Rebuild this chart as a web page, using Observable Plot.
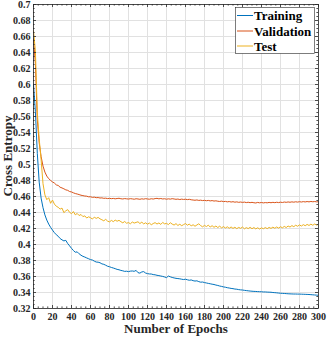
<!DOCTYPE html>
<html>
<head>
<meta charset="utf-8">
<script src="https://cdn.jsdelivr.net/npm/d3@7"></script>
<script src="https://cdn.jsdelivr.net/npm/@observablehq/plot@0.6"></script>
<style>
  html, body { margin: 0; padding: 0; background: #fff; }
</style>
</head>
<body>
<div id="chart"></div>
<script>
// ---- data (one value every 2 epochs) ----
const epochs = d3.range(0, 301, 2);
const training = [
  0.600,0.566,0.514,0.478,0.458,0.446,0.437,0.4305,0.4255,0.4215,
  0.418,0.4148,0.4122,0.4103,0.4075,0.4058,0.4045,0.4052,0.4012,0.3983,
  0.3952,0.3925,0.3903,0.3908,0.3884,0.3866,0.3852,0.3843,0.3832,0.3822,
  0.3811,0.3806,0.3792,0.3781,0.3779,0.3772,0.3758,0.3752,0.3741,0.3728,
  0.3722,0.3713,0.3706,0.3698,0.3689,0.3684,0.3676,0.3671,0.3664,0.3666,
  0.3661,0.3667,0.3669,0.3665,0.3676,0.3648,0.3642,0.3657,0.3661,0.3643,
  0.3636,0.3632,0.3631,0.3624,0.3621,0.3615,0.3611,0.3606,0.3601,0.3594,
  0.3586,0.3606,0.3596,0.3588,0.3582,0.3577,0.3574,0.3571,0.3566,0.3562,
  0.3566,0.3559,0.3553,0.3557,0.3548,0.3543,0.3546,0.3536,0.3529,0.3531,
  0.3524,0.3519,0.3514,0.3509,0.3504,0.3500,0.3493,0.3488,0.3481,0.3476,
  0.3470,0.3466,0.3460,0.3456,0.3451,0.3448,0.3443,0.3441,0.3436,0.3433,
  0.3431,0.3427,0.3424,0.3421,0.3418,0.3416,0.3414,0.3413,0.3411,0.3410,
  0.3409,0.3407,0.3407,0.3405,0.3404,0.3403,0.3400,0.3398,0.3396,0.3393,
  0.3391,0.3389,0.3388,0.3386,0.3384,0.3383,0.3382,0.3381,0.3381,0.3380,
  0.3380,0.3379,0.3378,0.3377,0.3376,0.3375,0.3373,0.3371,0.3369,0.3367,
  0.3365
];
const validation = [
  0.657,0.626,0.556,0.527,0.510,0.498,0.4905,0.4855,0.4823,0.4801,
  0.4782,0.4768,0.4745,0.4738,0.4716,0.4707,0.4696,0.4683,0.4677,0.4662,
  0.4657,0.4646,0.4637,0.4631,0.4624,0.4616,0.4611,0.4606,0.4604,0.4596,
  0.4597,0.4589,0.4592,0.4585,0.4587,0.4581,0.4583,0.4577,0.4579,0.4574,
  0.4577,0.4573,0.4576,0.4571,0.4575,0.4578,0.4572,0.4569,0.4574,0.4571,
  0.4568,0.4573,0.4570,0.4566,0.4572,0.4569,0.4565,0.4571,0.4567,0.4573,
  0.4569,0.4566,0.4572,0.4568,0.4574,0.4577,0.4571,0.4575,0.4569,0.4572,
  0.4566,0.4571,0.4567,0.4573,0.4569,0.4565,0.4568,0.4562,0.4567,0.4563,
  0.4566,0.4561,0.4565,0.4559,0.4556,0.4553,0.4557,0.4551,0.4554,0.4549,
  0.4552,0.4547,0.4551,0.4545,0.4549,0.4543,0.4546,0.4541,0.4538,0.4542,
  0.4536,0.4539,0.4533,0.4537,0.4531,0.4535,0.4529,0.4533,0.4527,0.4531,
  0.4526,0.4530,0.4524,0.4528,0.4523,0.4527,0.4522,0.4519,0.4526,0.4521,
  0.4525,0.4520,0.4524,0.4521,0.4526,0.4522,0.4527,0.4523,0.4528,0.4524,
  0.4529,0.4525,0.4531,0.4527,0.4532,0.4528,0.4533,0.4529,0.4534,0.4530,
  0.4535,0.4531,0.4536,0.4532,0.4537,0.4533,0.4538,0.4534,0.4537,0.4533,
  0.4534
];
const test = [
  0.667,0.642,0.565,0.532,0.506,0.476,0.462,0.456,0.4585,0.4515,
  0.4555,0.4505,0.4478,0.4465,0.4442,0.4455,0.4398,0.4421,0.4436,0.4402,
  0.4385,0.4412,0.4371,0.4388,0.4362,0.4375,0.4349,0.4358,0.4331,0.4346,
  0.4335,0.4318,0.4342,0.4326,0.4339,0.4321,0.4309,0.4296,0.4315,0.4292,
  0.4283,0.4301,0.4286,0.4305,0.4291,0.4302,0.4285,0.4271,0.4288,0.4266,
  0.4274,0.4259,0.4281,0.4268,0.4276,0.4284,0.4262,0.4279,0.4258,0.4271,
  0.4254,0.4268,0.4247,0.4262,0.4273,0.4256,0.4269,0.4251,0.4276,0.4258,
  0.4264,0.4249,0.4272,0.4255,0.4243,0.4261,0.4238,0.4253,0.4235,0.4249,
  0.4262,0.4241,0.4256,0.4232,0.4247,0.4228,0.4244,0.4259,0.4236,0.4221,
  0.4239,0.4224,0.4242,0.4218,0.4235,0.4215,0.4231,0.4212,0.4229,0.4208,
  0.4224,0.4206,0.4221,0.4203,0.4219,0.4201,0.4216,0.4198,0.4214,0.4202,
  0.4218,0.4196,0.4211,0.4199,0.4215,0.4197,0.4212,0.4195,0.4209,0.4193,
  0.4208,0.4197,0.4212,0.4198,0.4214,0.4201,0.4217,0.4203,0.4219,0.4205,
  0.4222,0.4209,0.4226,0.4212,0.4231,0.4218,0.4236,0.4223,0.4241,0.4228,
  0.4245,0.4231,0.4248,0.4235,0.4251,0.4238,0.4254,0.4241,0.4256,0.4243,
  0.4252
];
const seriesNames = ["Training", "Validation", "Test"];
const seriesColors = ["#0072BD", "#D95319", "#EDB120"];
const xTicks = [0,20,40,60,80,100,120,140,160,180,200,220,240,260,280,300];
const yTicks = [0.32,0.34,0.36,0.38,0.4,0.42,0.44,0.46,0.48,0.5,0.52,0.54,0.56,0.58,0.6,0.62,0.64,0.66,0.68,0.7];
const xMinor = d3.range(0, 301, 5).filter(v => v % 20 !== 0);
const yMinor = d3.range(320, 701, 5).filter(v => v % 20 !== 0).map(v => v / 1000);

const seriesValues = [training, validation, test];
const rows = [];
seriesValues.forEach((vals, s) => vals.forEach((v, i) => rows.push({epoch: epochs[i], value: v, series: seriesNames[s]})));

const axisColor = "#262626";
const tickStroke = {stroke: axisColor, strokeWidth: 0.8};

const plot = Plot.plot({
  width: 327,
  height: 337,
  marginLeft: 33,
  marginRight: 9,
  marginTop: 4,
  marginBottom: 29,
  style: {fontFamily: "'Liberation Serif', 'Times New Roman', serif", fontWeight: "bold", fontSize: "10px", color: axisColor, background: "#fff"},
  x: {domain: [0, 300]},
  y: {domain: [0.32, 0.7]},
  marks: [
    Plot.gridX(xTicks, {stroke: "#e1e1e1", strokeOpacity: 1}),
    Plot.gridY(yTicks, {stroke: "#e1e1e1", strokeOpacity: 1}),
    ...seriesNames.map((name, s) =>
      Plot.line(rows.filter(r => r.series === name), {x: "epoch", y: "value", stroke: seriesColors[s], strokeWidth: 1, clip: true})
    ),
    Plot.frame({stroke: axisColor, strokeWidth: 0.8}),
    // inward major ticks
    Plot.ruleY(yTicks, {y: d => d, x1: 0, x2: 0, insetLeft: 3, ...tickStroke}),
    Plot.ruleY(yTicks, {y: d => d, x1: 300, x2: 300, insetRight: 3, ...tickStroke}),
    Plot.ruleX(xTicks, {x: d => d, y1: 0.32, y2: 0.32, insetBottom: 3, ...tickStroke}),
    Plot.ruleX(xTicks, {x: d => d, y1: 0.7, y2: 0.7, insetTop: 3, ...tickStroke}),
    // inward minor ticks
    Plot.ruleY(yMinor, {y: d => d, x1: 0, x2: 0, insetLeft: 1.6, ...tickStroke}),
    Plot.ruleY(yMinor, {y: d => d, x1: 300, x2: 300, insetRight: 1.6, ...tickStroke}),
    Plot.ruleX(xMinor, {x: d => d, y1: 0.32, y2: 0.32, insetBottom: 1.6, ...tickStroke}),
    Plot.ruleX(xMinor, {x: d => d, y1: 0.7, y2: 0.7, insetTop: 1.6, ...tickStroke}),
    Plot.axisX(xTicks, {tickSize: 0, tickPadding: 4, label: null, fill: axisColor}),
    Plot.axisY(yTicks, {tickSize: 0, tickPadding: 3, label: null, fill: axisColor, tickFormat: d => String(d)})
  ]
});

const svg = d3.select(plot);
const font = "'Liberation Serif', 'Times New Roman', serif";

// axis titles
svg.append("text")
  .attr("x", 176).attr("y", 333)
  .attr("text-anchor", "middle")
  .attr("font-family", font).attr("font-weight", "bold").attr("font-size", 13)
  .attr("fill", axisColor)
  .text("Number of Epochs");
svg.append("g")
  .attr("transform", "translate(12,156)")
  .append("text")
  .attr("x", 0).attr("y", 0)
  .attr("transform", "rotate(-90)")
  .attr("text-anchor", "middle")
  .attr("font-family", font).attr("font-weight", "bold").attr("font-size", 13)
  .attr("fill", axisColor)
  .text("Cross Entropy");

// legend
const lg = svg.append("g").attr("text-anchor", "start");
lg.append("rect")
  .attr("x", 235.5).attr("y", 7.5).attr("width", 79).attr("height", 46)
  .attr("fill", "#fff").attr("stroke", axisColor).attr("stroke-width", 0.6);
const legendY = [15.5, 31, 46];
seriesNames.forEach((name, s) => {
  lg.append("line")
    .attr("x1", 237).attr("x2", 253)
    .attr("y1", legendY[s]).attr("y2", legendY[s])
    .attr("stroke", seriesColors[s]).attr("stroke-width", 1);
  lg.append("text")
    .attr("x", 254).attr("y", legendY[s] + 4.5)
    .attr("text-anchor", "start")
    .attr("font-family", font).attr("font-weight", "bold").attr("font-size", 13)
    .attr("fill", "#000")
    .text(name);
});

document.getElementById("chart").appendChild(plot);
</script>
</body>
</html>
